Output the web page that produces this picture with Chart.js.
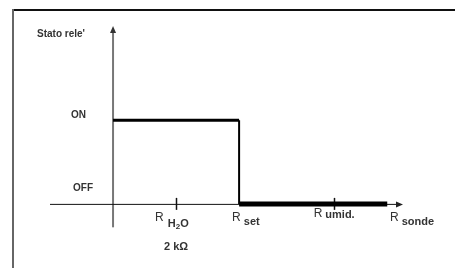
<!DOCTYPE html>
<html>
<head>
<meta charset="utf-8">
<script src="https://cdn.jsdelivr.net/npm/chart.js@4/dist/chart.umd.min.js"></script>
<style>
  html, body { margin: 0; padding: 0; background: #fff; }
  canvas { display: block; }
</style>
</head>
<body>
<canvas id="relay" width="455" height="268"></canvas>
<script>
// relay state vs probe resistance
const stepX = [0, 2, 2, 4.35];
const stepY = [1, 1, 0, 0];
const yTickValues = [0, 1];
const yTickLabels = ['OFF', 'ON'];
const xTickValues = [1, 3.5];
const xLabelValues = [1, 2, 3.5, 4.6];
const xLabelMain = ['R', 'R', 'R', 'R'];
const xLabelSub = ['H2O', 'set', 'umid.', 'sonde'];
const yTitle = "Stato rele'";
const extraLabel = '2 k\u03A9';

const segWidths = [3, 2, 5];
const ink = '#333';

const segments = [];
for (let i = 0; i < stepX.length - 1; i++) {
    segments.push({
        data: [{x: stepX[i], y: stepY[i]}, {x: stepX[i + 1], y: stepY[i + 1]}],
        borderColor: '#000',
        borderWidth: segWidths[i],
        pointRadius: 0,
        borderCapStyle: 'butt',
        tension: 0
    });
}

const axesPlugin = {
    id: 'axes',
    beforeDatasetsDraw(chart) {
        const c = chart.ctx;
        const xs = chart.scales.x, ys = chart.scales.y;
        const x0 = xs.getPixelForValue(0), y0 = ys.getPixelForValue(0);
        c.save();
        // frame
        c.fillStyle = '#111';
        c.fillRect(12, 9, 443, 2);
        c.fillStyle = '#666';
        c.fillRect(12, 9, 2, 259);
        // y axis
        c.strokeStyle = '#777';
        c.lineWidth = 2;
        c.beginPath();
        c.moveTo(x0, ys.getPixelForValue(-0.28));
        c.lineTo(x0, ys.getPixelForValue(2.05));
        c.stroke();
        c.fillStyle = '#333';
        const yt = ys.getPixelForValue(2.1);
        c.beginPath();
        c.moveTo(x0, yt - 2);
        c.lineTo(x0 - 3, yt + 5);
        c.lineTo(x0 + 3, yt + 5);
        c.closePath();
        c.fill();
        // x axis
        c.strokeStyle = '#111';
        c.lineWidth = 1;
        c.beginPath();
        c.moveTo(xs.getPixelForValue(-1), y0 + 0.5);
        c.lineTo(xs.getPixelForValue(4.5), y0 + 0.5);
        c.stroke();
        const xe = xs.getPixelForValue(4.6);
        c.fillStyle = '#222';
        c.beginPath();
        c.moveTo(xe, y0 + 0.5);
        c.lineTo(xe - 7, y0 - 2.5);
        c.lineTo(xe - 7, y0 + 3.5);
        c.closePath();
        c.fill();
        // ticks
        c.lineWidth = 1.5;
        xTickValues.forEach(v => {
            const px = Math.round(xs.getPixelForValue(v)) + 0.5;
            c.beginPath();
            c.moveTo(px, y0 - 6);
            c.lineTo(px, y0 + 6);
            c.stroke();
        });
        c.restore();
    },
    afterDatasetsDraw(chart) {
        const c = chart.ctx;
        const xs = chart.scales.x, ys = chart.scales.y;
        const y0 = ys.getPixelForValue(0);
        const sub = 'bold 11px "Liberation Sans", Arial, sans-serif';
        c.save();
        c.fillStyle = ink;
        c.textBaseline = 'middle';
        c.font = 'bold 10px "Liberation Sans", Arial, sans-serif';
        c.textAlign = 'left';
        c.fillText(yTitle, 37, 34);
        // y levels
        const yOff = [-16, -5];
        const yRight = [93, 86];
        c.textAlign = 'right';
        yTickValues.forEach((v, i) => {
            c.fillText(yTickLabels[i], yRight[i], ys.getPixelForValue(v) + yOff[i]);
        });
        // x labels: main letter + subscript
        const mainDy = [14, 14, 10, 14];
        const subDy = [20, 18, 11, 18];
        const leftShift = [-21, -7, -20, -13];
        xLabelValues.forEach((v, i) => {
            const px = xs.getPixelForValue(v) + leftShift[i];
            c.textAlign = 'left';
            c.font = '12px "Liberation Sans", Arial, sans-serif';
            c.fillText(xLabelMain[i], px, y0 + mainDy[i]);
            const w = c.measureText(xLabelMain[i]).width + 3;
            c.font = sub;
            if (xLabelSub[i] === 'H2O') {
                let sx = px + w + 1;
                c.fillText('H', sx, y0 + subDy[i]);
                sx += c.measureText('H').width;
                c.font = 'bold 8px "Liberation Sans", Arial, sans-serif';
                c.fillText('2', sx, y0 + subDy[i] + 3);
                sx += c.measureText('2').width;
                c.font = sub;
                c.fillText('O', sx, y0 + subDy[i]);
            } else {
                c.fillText(xLabelSub[i], px + w, y0 + subDy[i]);
            }
        });
        c.font = sub;
        c.textAlign = 'center';
        c.fillText(extraLabel, xs.getPixelForValue(xLabelValues[0]), y0 + 43);
        c.restore();
    }
};

new Chart(document.getElementById('relay'), {
    type: 'line',
    data: { datasets: segments },
    options: {
        responsive: false,
        animation: false,
        layout: { padding: { left: 50, right: 52, top: 28, bottom: 39 } },
        scales: {
            x: { type: 'linear', min: -1, max: 4.6, display: false },
            y: { type: 'linear', min: -0.3, max: 2.1, display: false }
        },
        plugins: { legend: { display: false }, tooltip: { enabled: false } }
    },
    plugins: [axesPlugin]
});
</script>
</body>
</html>
